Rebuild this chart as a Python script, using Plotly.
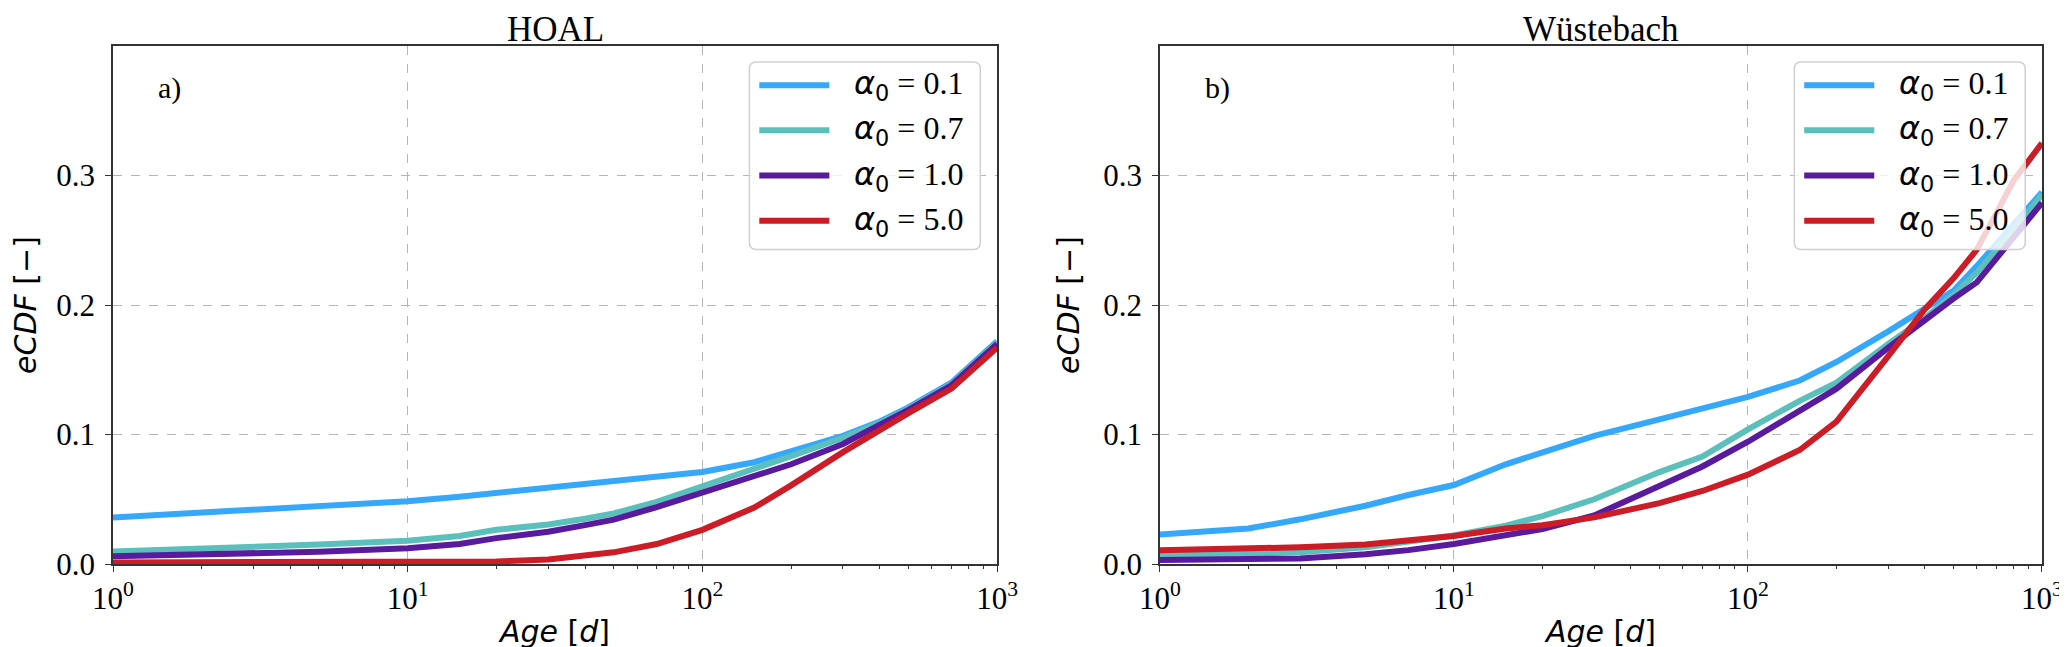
import plotly.graph_objects as go

# eCDF of water age for four alpha_0 values
alpha_labels = ["0.1", "0.7", "1.0", "5.0"]
line_colors = ["#36a8fb", "#5bbfbc", "#5a1a9e", "#cc1c26"]

age_hoal = [1, 2, 3, 5, 10, 15, 20, 30, 40, 50, 70, 100, 150, 200, 300, 400, 500, 700, 1000]
hoal_a01 = [0.036, 0.0398, 0.042, 0.0448, 0.0485, 0.052, 0.055, 0.0595, 0.062, 0.064, 0.0675,
            0.071, 0.0786, 0.0866, 0.099, 0.110, 0.121, 0.140, 0.172]
hoal_a07 = [0.0097, 0.0115, 0.0129, 0.015, 0.0179, 0.0217, 0.0264, 0.0305, 0.035, 0.039, 0.048,
            0.0596, 0.0738, 0.0833, 0.0975, 0.109, 0.120, 0.139, 0.171]
hoal_a10 = [0.0059, 0.007, 0.008, 0.0095, 0.0122, 0.0154, 0.020, 0.0249, 0.030, 0.0343, 0.044,
            0.055, 0.0675, 0.077, 0.0927, 0.107, 0.119, 0.138, 0.170]
hoal_a50 = [0.0012, 0.0012, 0.0012, 0.0012, 0.0012, 0.0015, 0.002, 0.0034, 0.006, 0.009, 0.0154,
            0.0264, 0.0436, 0.0607, 0.0864, 0.1038, 0.1165, 0.1354, 0.167]

age_wue = [1, 2, 3, 5, 7, 10, 15, 20, 30, 50, 70, 100, 150, 200, 300, 400, 500, 600, 700, 800, 1000]
wue_a01 = [0.0227, 0.0274, 0.0345, 0.045, 0.0533, 0.061, 0.077, 0.0864, 0.099, 0.1117, 0.1196,
           0.129, 0.1417, 0.156, 0.1796, 0.197, 0.211, 0.230, 0.2475, 0.2617, 0.287]
wue_a07 = [0.0065, 0.0075, 0.009, 0.0129, 0.017, 0.022, 0.0296, 0.037, 0.050, 0.071, 0.083,
           0.104, 0.126, 0.140, 0.170, 0.190, 0.208, 0.225, 0.2427, 0.257, 0.2855]
wue_a10 = [0.003, 0.0035, 0.0043, 0.0075, 0.0107, 0.0154, 0.0217, 0.027, 0.0375, 0.060, 0.0753,
           0.0944, 0.118, 0.1354, 0.167, 0.189, 0.205, 0.2175, 0.2364, 0.252, 0.279]
wue_a50 = [0.0107, 0.012, 0.0129, 0.015, 0.018, 0.0217, 0.0274, 0.030, 0.036, 0.047, 0.0564,
           0.069, 0.088, 0.110, 0.1606, 0.197, 0.2206, 0.2427, 0.271, 0.296, 0.325]

panel_titles = ["HOAL", "Wüstebach"]
panel_tags = ["a)", "b)"]
x_ticks = [1, 10, 100, 1000]
x_ticktext = ["10<sup>0</sup>", "10<sup>1</sup>", "10<sup>2</sup>", "10<sup>3</sup>"]
y_ticks = [0.0, 0.1, 0.2, 0.3]
y_ticktext = ["0.0", "0.1", "0.2", "0.3"]

W, H = 2067, 647
ML, MR, MT, MB = 91, 21, 38, 87
SERIF = "Liberation Serif"
SANS = "DejaVu Sans"
AXC = "#333333"


def px2paper(px, py):
    return (px - ML) / (W - ML - MR), (H - MB - py) / (H - MT - MB)


fig = go.Figure()

panels = [
    ("x", "y", age_hoal, [hoal_a01, hoal_a07, hoal_a10, hoal_a50]),
    ("x2", "y2", age_wue, [wue_a01, wue_a07, wue_a10, wue_a50]),
]
for xa, ya, ages, series in panels:
    for lab, col, vals in zip(alpha_labels, line_colors, series):
        fig.add_trace(go.Scatter(x=ages, y=vals, mode="lines", xaxis=xa, yaxis=ya,
                                 line=dict(color=col, width=6), showlegend=False,
                                 name="α0 = " + lab))

minor_vals = [m * d for d in (1, 10, 100) for m in range(2, 10)]
xax = dict(type="log", range=[0, 3], tickvals=x_ticks, ticktext=x_ticktext,
           ticks="outside", ticklen=6, tickwidth=1.3, tickcolor=AXC,
           showline=True, linecolor=AXC, linewidth=1.5, mirror=True,
           showgrid=True, gridcolor="#b5b5b5", griddash="dash", gridwidth=1,
           zeroline=False, tickfont=dict(family=SERIF, size=31, color="black"),
           minor=dict(tickvals=minor_vals, ticks="outside", ticklen=3.5, tickcolor=AXC,
                      tickwidth=1, showgrid=False),
           title=dict(text="<i>Age</i> [<i>d</i>]", font=dict(family=SANS, size=30, color="black"),
                      standoff=6))
yax = dict(range=[0, 0.4], tickvals=y_ticks, ticktext=y_ticktext,
           ticks="outside", ticklen=6, tickwidth=1.3, tickcolor=AXC,
           showline=True, linecolor=AXC, linewidth=1.5, mirror=True,
           showgrid=True, gridcolor="#b5b5b5", griddash="dash", gridwidth=1,
           zeroline=False, tickfont=dict(family=SERIF, size=31, color="black"),
           ticklabelstandoff=4,
           title=dict(text="<i>eCDF</i> [−]", font=dict(family=SANS, size=30, color="black"),
                      standoff=15))

left_dom = [0.0, (987 - ML) / (W - ML - MR)]
right_dom = [(1152 - ML) / (W - ML - MR), 1.0]
fig.update_layout(
    width=W, height=H,
    margin=dict(l=ML, r=MR, t=MT, b=MB),
    paper_bgcolor="white", plot_bgcolor="white",
    xaxis=dict(xax, domain=left_dom, anchor="y"),
    yaxis=dict(yax, anchor="x"),
    xaxis2=dict(xax, domain=right_dom, anchor="y2"),
    yaxis2=dict(yax, anchor="x2"),
)

shapes = []
annotations = []
_, top_y = px2paper(0, 0)
for i, (xa, ya) in enumerate([("x", "y"), ("x2", "y2")]):
    dom = "x domain" if i == 0 else "x2 domain"
    ydom = "y domain" if i == 0 else "y2 domain"
    # panel title, kept inside the top edge of the page
    annotations.append(dict(text=panel_titles[i], xref=dom, yref="paper", x=0.5, y=top_y,
                            xanchor="center", yanchor="top", showarrow=False,
                            font=dict(family=SERIF, size=35, color="black")))
    annotations.append(dict(text=panel_tags[i], xref=dom, yref=ydom, x=0.049, y=0.919,
                            xanchor="left", yanchor="middle", showarrow=False,
                            font=dict(family=SERIF, size=30, color="black")))

    # hand-made legend box in the upper right corner of each panel
    right_px = 987 if i == 0 else 2046
    bx1 = right_px - 17
    bx0 = bx1 - 234
    by0 = MT + 16
    by1 = by0 + 189
    r = 7
    pts = [px2paper(bx0 + r, by0), px2paper(bx1 - r, by0), px2paper(bx1, by0),
           px2paper(bx1, by0 + r), px2paper(bx1, by1 - r), px2paper(bx1, by1),
           px2paper(bx1 - r, by1), px2paper(bx0 + r, by1), px2paper(bx0, by1),
           px2paper(bx0, by1 - r), px2paper(bx0, by0 + r), px2paper(bx0, by0)]
    p = ["%.5f,%.5f" % q for q in pts]
    path = ("M %s L %s Q %s %s L %s Q %s %s L %s Q %s %s L %s Q %s %s Z"
            % (p[0], p[1], p[2], p[3], p[4], p[5], p[6], p[7], p[8], p[9], p[10], p[11], p[0]))
    shapes.append(dict(type="path", path=path, xref="paper", yref="paper", layer="above",
                       fillcolor="rgba(255,255,255,0.8)", line=dict(color="#d0d0d0", width=1.5)))
    for k, (lab, col) in enumerate(zip(alpha_labels, line_colors)):
        cy = by0 + 23.5 + 45.5 * k
        lx0, ly = px2paper(bx0 + 10, cy)
        lx1, _ = px2paper(bx0 + 81, cy)
        shapes.append(dict(type="line", xref="paper", yref="paper", x0=lx0, x1=lx1, y0=ly, y1=ly,
                           layer="above", line=dict(color=col, width=6)))
        tx, ty = px2paper(bx0 + 104, cy)
        annotations.append(dict(
            text=('<span style="font-family:DejaVu Sans"><i>α</i><sub>0</sub></span>'
                  ' = ' + lab),
            xref="paper", yref="paper", x=tx, y=ty, xanchor="left", yanchor="middle",
            showarrow=False, font=dict(family=SERIF, size=32, color="black")))

fig.update_layout(shapes=shapes, annotations=annotations)

fig.write_html("out.html")
